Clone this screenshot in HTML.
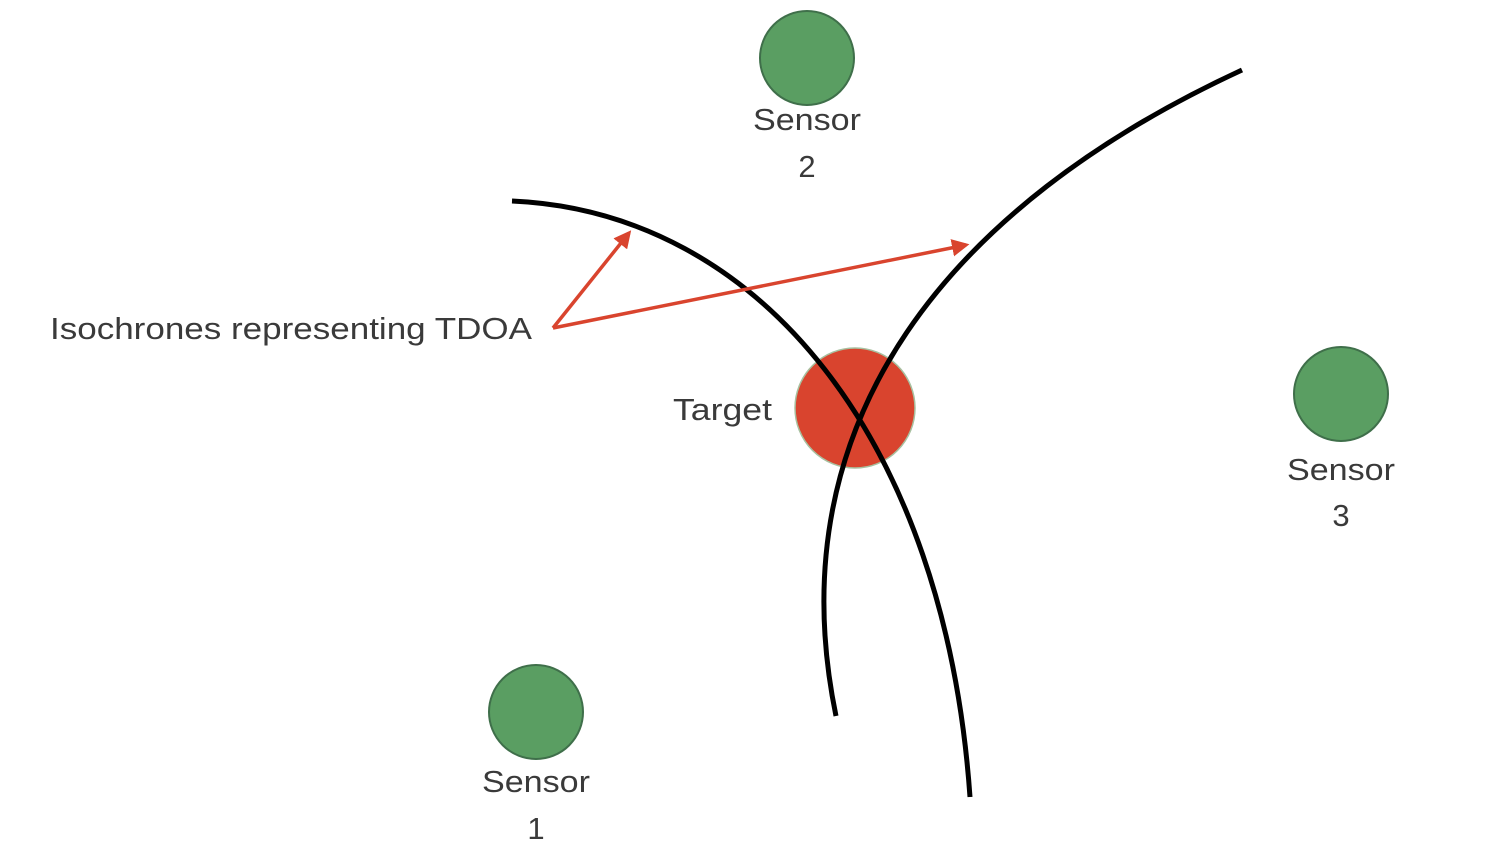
<!DOCTYPE html>
<html><head><meta charset="utf-8"><style>
html,body{margin:0;padding:0;background:#fff;width:1500px;height:850px;overflow:hidden}
svg text{font-family:"Liberation Sans",sans-serif;fill:#3a3a3a}
</style></head><body>
<svg width="1500" height="850" viewBox="0 0 1500 850" xmlns="http://www.w3.org/2000/svg">
<defs>
<marker id="ah" markerWidth="5" markerHeight="5" refX="4" refY="2.5" orient="auto" markerUnits="strokeWidth">
<path d="M0,0 L5,2.5 L0,5 z" fill="#d9442e"/>
</marker>
</defs>
<circle cx="807" cy="58" r="47" fill="#5a9e62" stroke="#3f6f4a" stroke-width="2"/>
<circle cx="1341" cy="394" r="47" fill="#5a9e62" stroke="#3f6f4a" stroke-width="2"/>
<circle cx="536" cy="712" r="47" fill="#5a9e62" stroke="#3f6f4a" stroke-width="2"/>
<circle cx="855" cy="408" r="60" fill="#d9442e" stroke="#a8c0a0" stroke-width="1.5"/>
<path d="M512,201 C760,212 945,440 970,797" fill="none" stroke="#000" stroke-width="5"/>
<path d="M1242,70 C950,205 775,420 836,716" fill="none" stroke="#000" stroke-width="5"/>
<path d="M553,328 L629,233" fill="none" stroke="#d9442e" stroke-width="3.5" marker-end="url(#ah)"/>
<path d="M553,328 L966,245" fill="none" stroke="#d9442e" stroke-width="3.5" marker-end="url(#ah)"/>
<text x="50" y="339" font-size="31" textLength="482" lengthAdjust="spacingAndGlyphs">Isochrones representing TDOA</text>
<text x="673" y="420" font-size="31" textLength="99" lengthAdjust="spacingAndGlyphs">Target</text>
<text x="753" y="130" font-size="31" textLength="108" lengthAdjust="spacingAndGlyphs">Sensor</text>
<text x="807" y="177" font-size="31" text-anchor="middle">2</text>
<text x="1287" y="480" font-size="31" textLength="108" lengthAdjust="spacingAndGlyphs">Sensor</text>
<text x="1341" y="526" font-size="31" text-anchor="middle">3</text>
<text x="482" y="792" font-size="31" textLength="108" lengthAdjust="spacingAndGlyphs">Sensor</text>
<text x="536" y="839" font-size="31" text-anchor="middle">1</text>
</svg>
</body></html>
